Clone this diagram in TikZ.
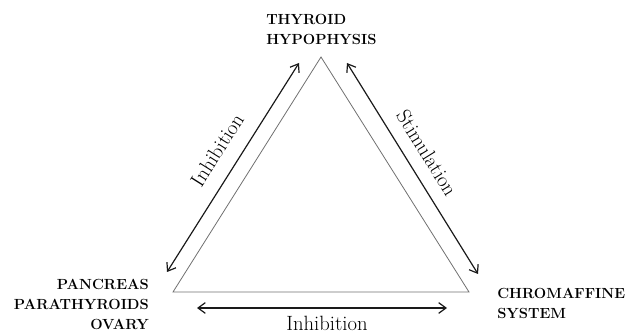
\documentclass[tikz,border=0pt]{standalone}
\usepackage{tikz}
\usetikzlibrary{arrows.meta}
\definecolor{Ink}{HTML}{1A1A1A}
\definecolor{Side}{HTML}{707070}

\tikzset{
  gland/.style={font=\fontsize{11}{15}\selectfont\bfseries,inner sep=0pt},
  effect/.style={font=\fontsize{15.5}{18}\selectfont,inner sep=0pt},
  side/.style={Side,line width=0.6pt},
  action/.style={<->,Ink,line width=0.9pt},
}

\begin{document}
\begin{tikzpicture}[x=0.75pt,y=-0.75pt,>={Straight Barb[length=5.5pt,width=8pt]}]
  \useasboundingbox (0,0) rectangle (632,334);
  % the triangle of glands
  \coordinate (top) at (321,57);
  \coordinate (left) at (173,292);
  \coordinate (right) at (469,292);
  \draw[side] (top) -- (left) -- (right) -- cycle;
  % actions along the sides
  \coordinate (inhA) at (167,272);
  \coordinate (inhB) at (299,63);
  \coordinate (stiA) at (347,63);
  \coordinate (stiB) at (478,274);
  \coordinate (botA) at (197,308);
  \coordinate (botB) at (447,308);
  \draw[action] (inhA) -- (inhB);
  \draw[action] (stiA) -- (stiB);
  \draw[action] (botA) -- (botB);
  % glands
  \node[gland,align=left,anchor=west] (thyroid) at (266,29) {THYROID\\HYPOPHYSIS};
  \node[gland,align=right,anchor=east] (pancreas) at (149,304) {PANCREAS\\PARATHYROIDS\\OVARY};
  \node[gland,align=left,anchor=west] (chromaffine) at (497,303) {CHROMAFFINE\\SYSTEM};
  % kinds of action
  \node[effect,rotate=57.7] (inhleft) at (217,150) {Inhibition};
  \node[effect,rotate=-58.2] (stimul) at (427,153) {Stimulation};
  \node[effect,anchor=base] (inhbottom) at (327,331) {Inhibition};
\end{tikzpicture}
\end{document}
